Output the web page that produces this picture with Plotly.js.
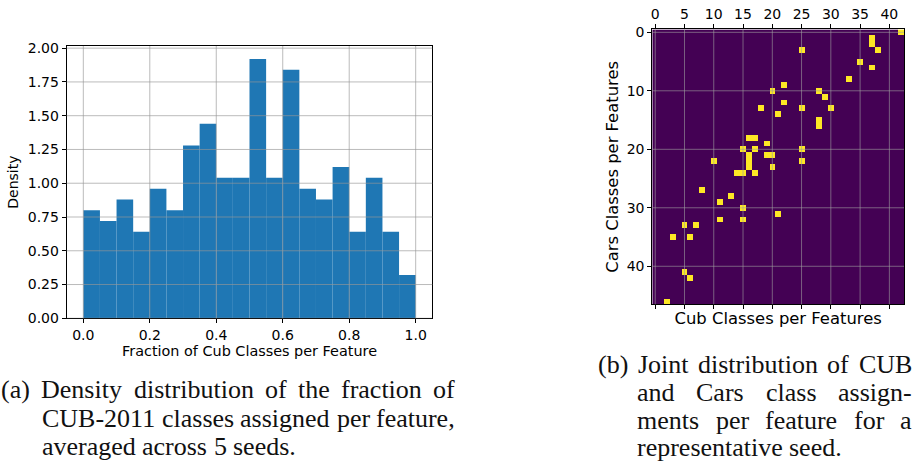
<!DOCTYPE html>
<html>
<head>
<meta charset="utf-8">
<script src="https://cdn.plot.ly/plotly-3.0.1.min.js"></script>
<style>html,body{margin:0;padding:0;background:#fff;}#chart{width:916px;height:463px;}</style>
</head>
<body>
<div id="chart"></div>
<script>
// ---------- data: histogram (a) ----------
const binLeft = [0.00,0.05,0.10,0.15,0.20,0.25,0.30,0.35,0.40,0.45,0.50,0.55,0.60,0.65,0.70,0.75,0.80,0.85,0.90,0.95];
const binWidth = 0.05;
const density = [0.80,0.72,0.88,0.64,0.96,0.80,1.28,1.44,1.04,1.04,1.92,1.04,1.84,0.96,0.88,1.12,0.64,1.04,0.64,0.32];
const histTicksX = [0.0,0.2,0.4,0.6,0.8,1.0];
const histTicksY = [0.00,0.25,0.50,0.75,1.00,1.25,1.50,1.75,2.00];

// ---------- data: joint assignment map (b) ----------
const nCub = 43;   // columns 0..42
const nCars = 47;  // rows 0..46
const cubCols  = [42,37,37,38,25,35,37,33,22,20,28,29,22,18,25,30,21,28,28,16,17,19,15,17,25,19,20,16,16,10,25,16,20,14,15,17,8,13,11,15,21,11,15,5,7,3,6,5,6,2];
const carsRows = [0,1,2,3,3,5,6,8,9,10,10,11,12,13,13,13,14,15,16,18,18,19,20,20,20,21,21,21,22,22,22,23,23,24,24,24,27,28,29,30,31,32,32,33,33,35,35,41,42,46];
const hmTicksX = [0,5,10,15,20,25,30,35,40];
const hmTicksY = [0,10,20,30,40];

// ---------- captions ----------
const captionA = ["(a) Density distribution of the fraction of", "CUB-2011 classes assigned per feature,", "averaged across 5 seeds."];
const captionB = ["(b) Joint distribution of CUB", "and Cars class assign-", "ments per feature for a", "representative seed."];

// ---------- build ----------
const W = 916, H = 463;
const z = [];
for (let r = 0; r < nCars; r++) { z.push(new Array(nCub).fill(0)); }
cubCols.forEach((c, i) => { z[carsRows[i]][c] = 1; });
const colIdx = Array.from({length: nCub}, (_, i) => i);
const rowIdx = Array.from({length: nCars}, (_, i) => i);

const traces = [
  {type: 'bar', x: binLeft, y: density, width: binWidth, offset: 0, xaxis: 'x', yaxis: 'y',
   marker: {color: '#1f77b4', line: {width: 0}}, hoverinfo: 'skip'},
  {type: 'heatmap', z: z, x: colIdx, y: rowIdx, xaxis: 'x2', yaxis: 'y2',
   colorscale: [[0, '#440154'], [1, '#fde725']], zmin: 0, zmax: 1, showscale: false, hoverinfo: 'skip'},
  {type: 'scatter', x: [], y: [], xaxis: 'x3', yaxis: 'y2', hoverinfo: 'skip'}
];

const shapes = [];
const gridA = 'rgba(150,150,150,0.65)';
const gridB = 'rgba(160,160,160,0.6)';
histTicksX.forEach(t => shapes.push({type: 'line', xref: 'x', yref: 'y domain', x0: t, x1: t, y0: 0, y1: 1, line: {color: gridA, width: 1}, layer: 'above'}));
histTicksY.forEach(t => shapes.push({type: 'line', xref: 'x domain', yref: 'y', x0: 0, x1: 1, y0: t, y1: t, line: {color: gridA, width: 1}, layer: 'above'}));
hmTicksX.forEach(t => shapes.push({type: 'line', xref: 'x2', yref: 'y2 domain', x0: t, x1: t, y0: 0, y1: 1, line: {color: gridB, width: 1}, layer: 'above'}));
hmTicksY.forEach(t => shapes.push({type: 'line', xref: 'x2 domain', yref: 'y2', x0: 0, x1: 1, y0: t, y1: t, line: {color: gridB, width: 1}, layer: 'above'}));

// justified caption lines
const capFont = 26;
const capFamily = 'Liberation Serif';
const canvas = document.createElement('canvas');
const ctx = canvas.getContext('2d');
ctx.font = capFont + 'px "' + capFamily + '"';
const annotations = [];
function placeLine(text, x0, x1, baseline, justify) {
  const words = text.split(' ');
  const widths = words.map(w => ctx.measureText(w).width);
  const total = widths.reduce((a, b) => a + b, 0);
  const space = ctx.measureText(' ').width;
  const gap = (justify && words.length > 1) ? (x1 - x0 - total) / (words.length - 1) : space;
  let x = x0;
  const yMid = baseline - 0.3375 * capFont;
  words.forEach((w, i) => {
    annotations.push({text: w, xref: 'paper', yref: 'paper', x: x / W, y: 1 - yMid / H,
      xanchor: 'left', yanchor: 'middle', showarrow: false, borderpad: 0, borderwidth: 0,
      font: {family: capFamily, size: capFont, color: '#111'}});
    x += widths[i] + gap;
  });
}
const capALeft = [1, 42, 42], capARight = 455, capABase = [398, 427, 455], capAJust = [true, true, false];
captionA.forEach((t, i) => placeLine(t, capALeft[i], capARight, capABase[i], capAJust[i]));
const capBLeft = [598, 637, 637, 637], capBRight = 912, capBBase = [373, 401, 429, 456], capBJust = [true, true, true, false];
captionB.forEach((t, i) => placeLine(t, capBLeft[i], capBRight, capBBase[i], capBJust[i]));

const axCommon = {ticks: 'outside', ticklen: 4, tickwidth: 1, tickcolor: 'black', showline: true, linecolor: 'black',
  linewidth: 1, showgrid: false, zeroline: false, automargin: false, tickfont: {size: 14}};

const layout = {
  width: W, height: H, margin: {l: 0, r: 0, t: 0, b: 0},
  paper_bgcolor: 'white', plot_bgcolor: 'white', showlegend: false,
  font: {family: 'DejaVu Sans', size: 14, color: 'black'},
  xaxis: Object.assign({}, axCommon, {domain: [66.7 / W, 432.3 / W], anchor: 'y', range: [-0.05, 1.05],
    tickvals: histTicksX, tickformat: '.1f', mirror: true,
    title: {text: 'Fraction of Cub Classes per Feature', standoff: 2, font: {size: 14.4}}}),
  yaxis: Object.assign({}, axCommon, {domain: [1 - 318.3 / H, 1 - 46 / H], anchor: 'x', range: [0, 2.016],
    tickvals: histTicksY, tickformat: '.2f', mirror: true,
    title: {text: 'Density', standoff: 5, font: {size: 14}}}),
  xaxis2: Object.assign({}, axCommon, {domain: [652.3 / W, 904 / W], anchor: 'y2', side: 'top', range: [-0.5, 42.5],
    tickvals: hmTicksX}),
  xaxis3: Object.assign({}, axCommon, {overlaying: 'x2', anchor: 'y2', side: 'bottom', range: [-0.5, 42.5],
    tickvals: hmTicksX, showticklabels: false,
    title: {text: 'Cub Classes per Features', standoff: 4, font: {size: 16.4}}}),
  yaxis2: Object.assign({}, axCommon, {domain: [1 - 304.3 / H, 1 - 29.4 / H], anchor: 'x2', range: [46.5, -0.5],
    tickvals: hmTicksY, mirror: true,
    title: {text: 'Cars Classes per Features', standoff: 3, font: {size: 16.4}}}),
  shapes: shapes,
  annotations: annotations
};

Plotly.newPlot('chart', traces, layout, {staticPlot: true, displayModeBar: false});
</script>
</body>
</html>
